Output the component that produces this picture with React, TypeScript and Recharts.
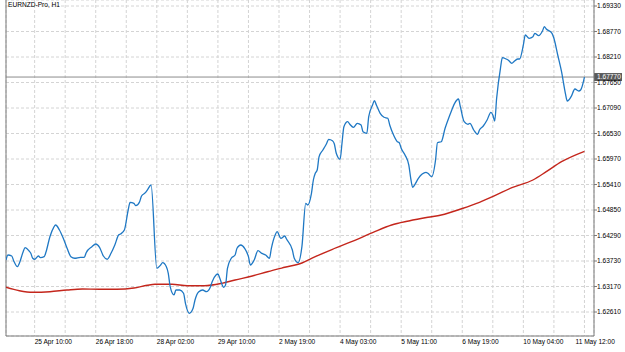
import { CartesianGrid, Line, LineChart, ReferenceLine, XAxis, YAxis } from "recharts";

const symbolTitle = "EURNZD-Pro, H1";

// bar index (hourly bars) of sampled closes
const closeBars = [0, 1, 3, 4, 6, 7, 9, 10, 12, 13, 14, 15, 17, 18, 20, 21, 23, 25, 26, 28, 30, 32, 34, 36, 39, 41, 42, 45, 47, 49, 51, 53, 55, 57, 59, 60, 62, 64, 65, 67, 68, 70, 71, 73, 74, 76, 79, 81, 82, 84, 85, 86, 88, 89, 91, 93, 94, 96, 98, 99, 101, 103, 105, 107, 108, 110, 111, 112, 114, 115, 116, 118, 120, 121, 123, 125, 127, 128, 130, 132, 134, 136, 138, 139, 141, 142, 144, 146, 147, 150, 151, 153, 155, 157, 158, 160, 161, 162, 163, 164, 166, 167, 168, 169, 171, 172, 173, 175, 176, 177, 179, 180, 182, 184, 186, 187, 189, 190, 192, 193, 194, 196, 198, 200, 201, 203, 205, 206, 207, 209, 211, 212, 213, 214, 216, 218, 220, 221, 223, 225, 226, 228, 230, 232, 233, 235, 237, 238, 240, 242, 243, 245, 247, 248, 250, 252, 254, 255, 256, 257, 259, 260, 262, 263, 265, 266, 268, 269, 271, 272, 274, 276, 277, 279, 281, 282, 283, 286, 287, 289, 291, 293, 294, 296, 298, 300, 301, 303];
const closePrices = [1.63752, 1.63862, 1.6384, 1.63737, 1.63605, 1.6368, 1.63934, 1.64022, 1.63956, 1.63899, 1.6379, 1.63768, 1.6384, 1.63803, 1.63825, 1.63934, 1.64264, 1.6447, 1.64521, 1.64411, 1.64229, 1.64009, 1.63825, 1.6379, 1.63811, 1.63811, 1.63913, 1.64044, 1.64104, 1.64031, 1.6384, 1.63768, 1.63899, 1.64082, 1.64301, 1.64323, 1.64411, 1.6485, 1.65019, 1.64997, 1.64945, 1.65032, 1.65158, 1.6523, 1.65289, 1.65399, 1.6357, 1.63642, 1.63693, 1.63605, 1.6346, 1.63166, 1.62984, 1.63093, 1.63093, 1.63021, 1.62801, 1.62582, 1.62691, 1.62874, 1.63056, 1.63093, 1.63056, 1.63153, 1.63276, 1.63423, 1.63445, 1.6335, 1.63153, 1.63203, 1.6357, 1.6379, 1.63862, 1.64009, 1.64082, 1.64009, 1.63825, 1.63642, 1.63752, 1.63956, 1.63899, 1.63862, 1.6379, 1.64009, 1.64301, 1.64374, 1.64229, 1.64279, 1.64207, 1.63972, 1.6379, 1.63693, 1.64044, 1.64997, 1.6496, 1.65217, 1.65509, 1.65656, 1.65729, 1.66021, 1.66168, 1.6624, 1.66315, 1.66403, 1.66372, 1.663, 1.66095, 1.65964, 1.66315, 1.6668, 1.66789, 1.66739, 1.66666, 1.66754, 1.66717, 1.6657, 1.66535, 1.66899, 1.67156, 1.67251, 1.67156, 1.66974, 1.66886, 1.66864, 1.66717, 1.66497, 1.6635, 1.66328, 1.66205, 1.66058, 1.65838, 1.65546, 1.65349, 1.65399, 1.65546, 1.65641, 1.65678, 1.65656, 1.65582, 1.65948, 1.66328, 1.6635, 1.66644, 1.66882, 1.66991, 1.67193, 1.67288, 1.67119, 1.66789, 1.66732, 1.66754, 1.66607, 1.66513, 1.66607, 1.66695, 1.66827, 1.66996, 1.66937, 1.66805, 1.67303, 1.67962, 1.68195, 1.68166, 1.68144, 1.68072, 1.68107, 1.68166, 1.68166, 1.68474, 1.68693, 1.68621, 1.68656, 1.68731, 1.68678, 1.68781, 1.68876, 1.68825, 1.68731, 1.68621, 1.68254, 1.67887, 1.67413, 1.67244, 1.67338, 1.67508, 1.67464, 1.67486, 1.6777];

// moving average
const maBars = [0, 7, 14, 23, 32, 40, 49, 58, 67, 74, 78, 87, 95, 104, 113, 120, 129, 137, 146, 155, 162, 171, 181, 192, 202, 211, 221, 228, 239, 248, 256, 265, 276, 283, 291, 303];
const maPrices = [1.63153, 1.63078, 1.63043, 1.63056, 1.63093, 1.63115, 1.63109, 1.63109, 1.63137, 1.63197, 1.63219, 1.63219, 1.63188, 1.63188, 1.6324, 1.63313, 1.63401, 1.63495, 1.63592, 1.63686, 1.63825, 1.63987, 1.64154, 1.64352, 1.64521, 1.64609, 1.6469, 1.6474, 1.64883, 1.65019, 1.65164, 1.6534, 1.65509, 1.65691, 1.65911, 1.66139];

const priceTicks = [1.6261, 1.6317, 1.6373, 1.6429, 1.6485, 1.6541, 1.6597, 1.6653, 1.6709, 1.6765, 1.6821, 1.6877, 1.6933];
const gridBars = [15, 31, 47, 63, 79, 95, 111, 127, 143, 159, 175, 191, 207, 223, 239, 255, 271, 287, 303];
const labelBars = [15, 47, 79, 111, 143, 175, 207, 239, 271, 303];
const labelText = ["25 Apr 10:00", "26 Apr 18:00", "28 Apr 02:00", "29 Apr 10:00", "2 May 19:00", "4 May 03:00", "5 May 11:00", "6 May 19:00", "10 May 04:00", "11 May 12:00"];
const currentPrice = 1.6777;

const closeData = closeBars.map((t, i) => ({ t, close: closePrices[i] }));
const maData = maBars.map((t, i) => ({ t, ma: maPrices[i] }));

const FONT = "'Liberation Sans', Arial, sans-serif";
const FS = 6.6;

function TimeTick(props: any) {
  const { x, y, payload } = props;
  const i = labelBars.indexOf(payload.value);
  if (i < 0) return null;
  const last = i === labelBars.length - 1;
  return (
    <text x={x} y={y} dx={last ? -9 : 0} dy="0.71em" textAnchor="start" fontSize={FS} fontFamily={FONT} fill="#000">
      {labelText[i]}
    </text>
  );
}

function PriceTag(props: any) {
  const { viewBox } = props;
  const x = viewBox.x + viewBox.width;
  const y = viewBox.y;
  return (
    <g>
      <rect x={x} y={y - 4} width={28} height={8} fill="#5a5a5a" />
      <text x={x + 3} y={y} dy="0.35em" fontSize={FS} fontFamily={FONT} fill="#fff">
        {currentPrice.toFixed(5)}
      </text>
    </g>
  );
}

export default function App() {
  return (
    <div style={{ position: "absolute", left: 0, top: 0, width: 625, height: 352, background: "#fff" }}>
      <div style={{ position: "absolute", left: 8, top: 1, fontSize: FS, fontFamily: FONT, color: "#000", zIndex: 2 }}>
        {symbolTitle}
      </div>
      <LineChart width={625} height={352} data={closeData} margin={{ top: 0, right: 0, bottom: 0, left: 6 }}>
        <CartesianGrid stroke="#d4d4d4" strokeDasharray="3 2" verticalPoints={undefined} />
        <XAxis
          dataKey="t"
          type="number"
          domain={[0, 308]}
          ticks={gridBars}
          interval={0}
          height={16}
          tickLine={false}
          tickSize={2}
          tickMargin={1}
          axisLine={{ stroke: "#7a7a7a" }}
          tick={<TimeTick />}
          allowDataOverflow
        />
        <YAxis
          orientation="right"
          type="number"
          domain={[1.62083, 1.69462]}
          ticks={priceTicks}
          interval={0}
          width={31}
          tickSize={3}
          tickMargin={0}
          tickLine={{ stroke: "#7a7a7a" }}
          axisLine={{ stroke: "#7a7a7a" }}
          tickFormatter={(v: number) => v.toFixed(5)}
          tick={{ fontSize: FS, fontFamily: FONT, fill: "#000" }}
          allowDataOverflow
        />
        <ReferenceLine x={0} stroke="#7a7a7a" />
        <ReferenceLine y={currentPrice} stroke="#8c8c8c" label={<PriceTag />} />
        <Line data={maData} dataKey="ma" type="monotone" stroke="#c4261c" strokeWidth={1.4} dot={false} isAnimationActive={false} />
        <Line data={closeData} dataKey="close" type="monotone" stroke="#1f78c4" strokeWidth={1.3} dot={false} isAnimationActive={false} />
      </LineChart>
    </div>
  );
}
